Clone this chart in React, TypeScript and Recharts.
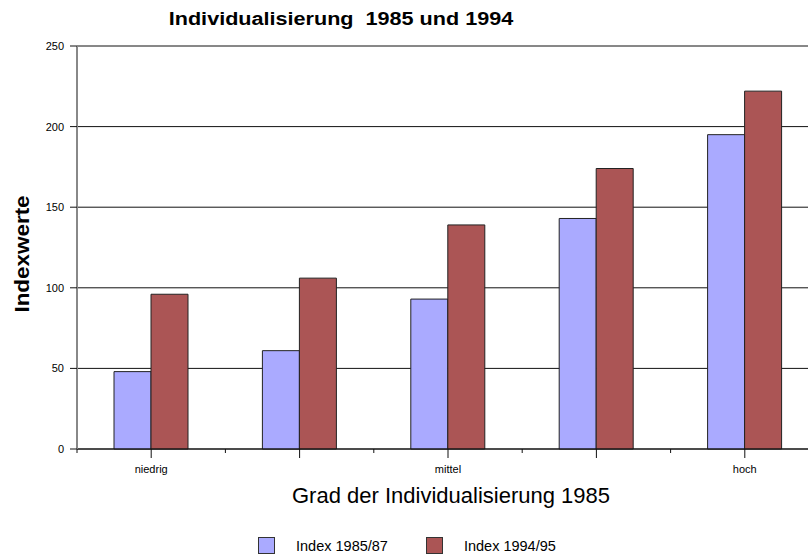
import { BarChart, Bar, XAxis, YAxis, CartesianGrid } from 'recharts';

const categories = ['niedrig', '', 'mittel', '', 'hoch'];
const index1985 = [48, 61, 93, 143, 195];
const index1994 = [96, 106, 139, 174, 222];
const yTicks = [0, 50, 100, 150, 200, 250];

const series = [
  { key: 'a', name: 'Index 1985/87', color: '#aaaaff' },
  { key: 'b', name: 'Index 1994/95', color: '#ab5555' }
];

const data = categories.map((cat, i) => ({
  key: i,
  cat,
  a: index1985[i],
  b: index1994[i]
}));

const font = '"Liberation Sans", Arial, sans-serif';

// center tick + short ticks at the category boundaries
const CategoryTick = ({ x, y, payload, index }: any) => {
  const half = payload.offset || 0;
  const axisY = y - 12;
  return (
    <g>
      <line x1={x} y1={axisY} x2={x} y2={axisY + 9} stroke="#111" />
      <line x1={x - half} y1={axisY} x2={x - half} y2={axisY + 4} stroke="#111" />
      {index === categories.length - 1 && (
        <line x1={x + half} y1={axisY} x2={x + half} y2={axisY + 4} stroke="#111" />
      )}
      <text x={x} y={y + 12} textAnchor="middle" fontSize={11} fill="#000" fontFamily={font}>
        {categories[payload.value]}
      </text>
    </g>
  );
};

// light shadow line just below each gridline
const shadowRows = (props: any) => {
  const scale = props?.yAxis?.scale;
  if (typeof scale !== 'function') return [];
  return yTicks.map((t) => scale(t) + 1.5);
};

export default function App() {
  return (
    <div style={{ position: 'absolute', left: 0, top: 0, width: 808, height: 556, overflow: 'hidden', background: '#fff' }}>
      <div
        style={{
          position: 'absolute', left: 341, top: 19, transform: 'translate(-50%, -50%) scaleX(1.2)',
          fontFamily: font, fontWeight: 'bold', fontSize: 18, whiteSpace: 'pre', lineHeight: 1
        }}
      >
        {'Individualisierung  1985 und 1994'}
      </div>
      <div
        style={{
          position: 'absolute', left: 23, top: 254, transform: 'translate(-50%, -50%) rotate(-90deg) scaleX(1.15)',
          fontFamily: font, fontWeight: 'bold', fontSize: 19.5, whiteSpace: 'pre', lineHeight: 1
        }}
      >
        Indexwerte
      </div>
      <div
        style={{
          position: 'absolute', left: 451, top: 496, transform: 'translate(-50%, -50%)',
          fontFamily: font, fontSize: 22, whiteSpace: 'pre', lineHeight: 1
        }}
      >
        Grad der Individualisierung 1985
      </div>
      <div style={{ position: 'absolute', left: 258, top: 537, display: 'flex', gap: 38, fontFamily: font, fontSize: 14.5, color: '#000' }}>
        {series.map((s) => (
          <div key={s.key} style={{ display: 'flex', alignItems: 'center', gap: 21 }}>
            <div style={{ width: 17, height: 17, background: s.color, border: '1px solid #333', boxSizing: 'border-box' }} />
            <span>{s.name}</span>
          </div>
        ))}
      </div>
      <BarChart
        width={830}
        height={556}
        data={data}
        margin={{ top: 46, right: 11, bottom: 77, left: 0 }}
        barGap={0}
        barSize={37}
      >
        <CartesianGrid vertical={false} stroke="#c8c8c8" horizontalCoordinatesGenerator={shadowRows} />
        <CartesianGrid vertical={false} stroke="#111" />
        <XAxis
          dataKey="key"
          tick={<CategoryTick />}
          tickSize={10}
          tickLine={false}
          axisLine={{ stroke: '#111' }}
          height={30}
          interval={0}
        />
        <YAxis
          width={77}
          domain={[0, 250]}
          ticks={yTicks}
          tickSize={7}
          tickMargin={6}
          tick={{ fontSize: 11, fill: '#000', fontFamily: font }}
          tickLine={{ stroke: '#111' }}
          axisLine={{ stroke: '#888', strokeWidth: 2 }}
        />
        {series.map((s) => (
          <Bar key={s.key} dataKey={s.key} name={s.name} fill={s.color} stroke="#222" isAnimationActive={false} />
        ))}
      </BarChart>
    </div>
  );
}
